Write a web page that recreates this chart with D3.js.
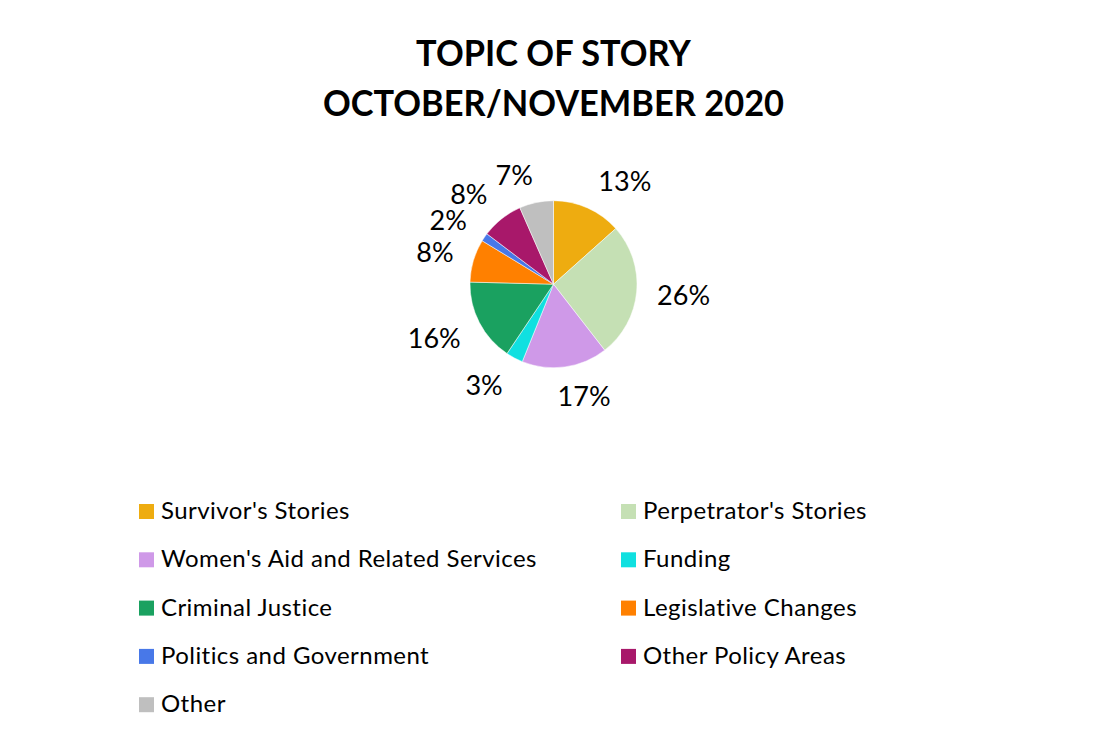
<!DOCTYPE html>
<html>
<head>
<meta charset="utf-8">
<script src="https://cdn.jsdelivr.net/npm/d3@7"></script>
<style>
  html, body { margin: 0; padding: 0; background: #ffffff; }
  svg { display: block; }
  text { font-family: Lato, "Open Sans", sans-serif; fill: #000; }
</style>
</head>
<body>
<svg id="chart" width="1105" height="753"></svg>
<script>
// ---- data ----
const titleLines = ["TOPIC OF STORY", "OCTOBER/NOVEMBER 2020"];
const categories = [
  "Survivor's Stories",
  "Perpetrator's Stories",
  "Women's Aid and Related Services",
  "Funding",
  "Criminal Justice",
  "Legislative Changes",
  "Politics and Government",
  "Other Policy Areas",
  "Other"
];
const values = [13.4, 26.1, 16.6, 3.3, 16.0, 8.3, 1.6, 8.1, 6.6];
const colors = ["#EEAC10", "#C5E0B4", "#CF99E8", "#10E0E0", "#1AA160", "#FF8000", "#4878E8", "#A8186A", "#BFBFBF"];

// ---- layout ----
const cx = 553.5, cy = 284.2, R = 83.5;
const svg = d3.select("#chart");

// title
svg.append("g").selectAll("text").data(titleLines).join("text")
  .attr("transform", (d, i) => `translate(${cx},${66 + i * 50}) scale(0.93,1)`)
  .attr("text-anchor", "middle")
  .attr("font-weight", 700)
  .attr("font-size", 37)
  .text(d => d);

// pie
const data = categories.map((c, i) => ({ name: c, value: values[i], color: colors[i] }));
const total = d3.sum(values);
const pie = d3.pie().sort(null).value(d => d.value);
const arcs = pie(data);
const arc = d3.arc().innerRadius(0).outerRadius(R);

const g = svg.append("g").attr("transform", `translate(${cx},${cy})`);
g.selectAll("path").data(arcs).join("path")
  .attr("d", arc)
  .attr("fill", d => d.data.color)
  .attr("stroke", "#ffffff")
  .attr("stroke-width", 0.5);

// outside-end labels
const fmt = d => Math.round(d.data.value / total * 100) + "%";
const labelR = 100, halfH = 12, padX = 4;
const clamp = v => Math.max(-1, Math.min(1, v));
const labels = g.selectAll("text.lbl").data(arcs).join("text")
  .attr("class", "lbl")
  .attr("font-size", 27)
  .attr("text-anchor", "middle")
  .attr("dominant-baseline", "central")
  .text(fmt);
labels.each(function(d) {
  const a = (d.startAngle + d.endAngle) / 2;
  const w = this.getComputedTextLength();
  const s = Math.sin(a), c = -Math.cos(a);
  const x = labelR * s + (w / 2 + padX) * clamp(4 * s);
  const y = labelR * c + halfH * clamp(1.3 * c);
  d3.select(this).attr("x", x).attr("y", y);
});

// legend
const legend = svg.append("g");
const colX = [139, 621];
const rowY0 = 504, rowStep = 48.3, sq = 15;
const items = legend.selectAll("g").data(data).join("g")
  .attr("transform", (d, i) => `translate(${colX[i % 2]},${rowY0 + Math.floor(i / 2) * rowStep})`);
items.append("rect")
  .attr("width", sq).attr("height", sq)
  .attr("fill", d => d.color);
items.append("text")
  .attr("x", 22)
  .attr("y", sq)
  .attr("font-size", 24)
  .attr("letter-spacing", 0.45)
  .text(d => d.name);
</script>
</body>
</html>
